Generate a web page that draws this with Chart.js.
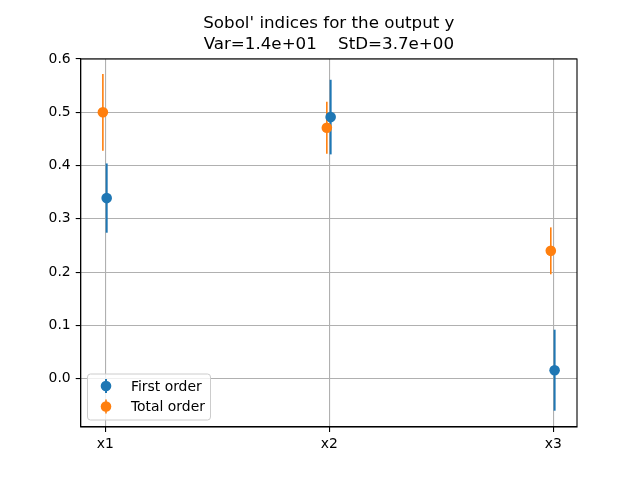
<!DOCTYPE html>
<html>
<head>
<meta charset="utf-8">
<script src="https://cdn.jsdelivr.net/npm/chart.js@4/dist/chart.umd.min.js"></script>
<style>
    html, body { margin: 0; padding: 0; background: #fff; }
    #wrap { width: 640px; height: 480px; }
</style>
</head>
<body>
<div id="wrap"><canvas id="myChart" width="640" height="480"></canvas></div>
<script>
const categories = ["x1", "x2", "x3"];
const seriesNames = ["First order", "Total order"];
const firstOrder = [0.339, 0.491, 0.016];
const firstOrderErr = [0.065, 0.070, 0.076];
const totalOrder = [0.500, 0.471, 0.240];
const totalOrderErr = [0.072, 0.049, 0.044];
const xOffsets = [0.006, -0.011];
const yTicks = [0.0, 0.1, 0.2, 0.3, 0.4, 0.5, 0.6];
const titleLines = ["Sobol' indices for the output y", "Var=1.4e+01    StD=3.7e+00"];

const BLUE = "#1f77b4";
const ORANGE = "#ff7f0e";
const FONT = "'DejaVu Sans', sans-serif";

const toPoints = (values, errs, offset) => values.map((v, i) => ({x: i + offset, y: v, err: errs[i]}));

// vertical error bars, drawn under the markers
const errorBars = {
    id: "errorBars",
    beforeDatasetsDraw(chart) {
        const {ctx, scales: {x, y}} = chart;
        ctx.save();
        chart.data.datasets.forEach(ds => {
            ctx.strokeStyle = ds.backgroundColor;
            ctx.lineWidth = ds.errWidth;
            ds.data.forEach(p => {
                const px = x.getPixelForValue(p.x);
                ctx.beginPath();
                ctx.moveTo(px, y.getPixelForValue(p.y - p.err));
                ctx.lineTo(px, y.getPixelForValue(p.y + p.err));
                ctx.stroke();
            });
        });
        ctx.restore();
    }
};

// frame, title and legend in matplotlib style
const decorations = {
    id: "decorations",
    afterDraw(chart) {
        const {ctx, chartArea: a} = chart;
        ctx.save();
        ctx.strokeStyle = "#000";
        ctx.lineWidth = 1.1;
        ctx.strokeRect(a.left, a.top, a.right - a.left, a.bottom - a.top);

        ctx.fillStyle = "#000";
        ctx.font = "16.7px " + FONT;
        ctx.textAlign = "center";
        ctx.textBaseline = "middle";
        const cx = (a.left + a.right) / 2;
        titleLines.forEach((t, i) => ctx.fillText(t, cx, 24 + i * 20.5));

        const bx = 87.5, by = 374, bw = 123, bh = 46;
        ctx.beginPath();
        ctx.roundRect(bx, by, bw, bh, 3);
        ctx.fillStyle = "rgba(255,255,255,0.8)";
        ctx.fill();
        ctx.strokeStyle = "#cccccc";
        ctx.lineWidth = 1;
        ctx.stroke();

        ctx.font = "13.9px " + FONT;
        ctx.textAlign = "left";
        chart.data.datasets.forEach((ds, i) => {
            const ly = 386 + i * 20.5;
            ctx.strokeStyle = ds.backgroundColor;
            ctx.lineWidth = ds.errWidth;
            ctx.beginPath();
            ctx.moveTo(106, ly - 7);
            ctx.lineTo(106, ly + 7);
            ctx.stroke();
            ctx.fillStyle = ds.backgroundColor;
            ctx.beginPath();
            ctx.arc(106, ly, 5.3, 0, Math.PI * 2);
            ctx.fill();
            ctx.fillStyle = "#000";
            ctx.fillText(ds.label, 131, ly + 1);
        });
        ctx.restore();
    }
};

Chart.register(errorBars, decorations);

new Chart(document.getElementById("myChart").getContext("2d"), {
    type: "scatter",
    data: {
        datasets: [
            {
                label: seriesNames[0],
                data: toPoints(firstOrder, firstOrderErr, xOffsets[0]),
                backgroundColor: BLUE,
                pointRadius: 5.3,
                pointBorderWidth: 0,
                errWidth: 2,
                order: 2,
            },
            {
                label: seriesNames[1],
                data: toPoints(totalOrder, totalOrderErr, xOffsets[1]),
                backgroundColor: ORANGE,
                pointRadius: 5.3,
                pointBorderWidth: 0,
                errWidth: 1.6,
                order: 1,
            }
        ]
    },
    options: {
        responsive: false,
        animation: false,
        devicePixelRatio: 1,
        layout: {padding: {top: 59, right: 63, left: 0, bottom: 0}},
        plugins: {
            legend: {display: false},
            tooltip: {enabled: false},
        },
        scales: {
            x: {
                type: "linear",
                min: -0.11,
                max: 2.106,
                afterBuildTicks: s => { s.ticks = categories.map((c, i) => ({value: i})); },
                afterFit: s => { s.height = 53; },
                ticks: {
                    callback: v => categories[v],
                    color: "#000",
                    font: {family: FONT, size: 13.9},
                    padding: 4,
                    maxRotation: 0,
                },
                grid: {color: "#b0b0b0", lineWidth: 1.1, tickColor: "#000", tickLength: 5},
                border: {color: "#000", width: 1.1},
            },
            y: {
                min: -0.0906,
                max: 0.6,
                afterBuildTicks: s => { s.ticks = yTicks.map(v => ({value: v})); },
                afterFit: s => { s.width = 80.7; },
                ticks: {
                    callback: v => v.toFixed(1),
                    color: "#000",
                    font: {family: FONT, size: 13.9},
                    padding: 5,
                },
                grid: {color: "#b0b0b0", lineWidth: 1.1, tickColor: "#000", tickLength: 5},
                border: {color: "#000", width: 1.1},
            }
        }
    }
});
</script>
</body>
</html>
